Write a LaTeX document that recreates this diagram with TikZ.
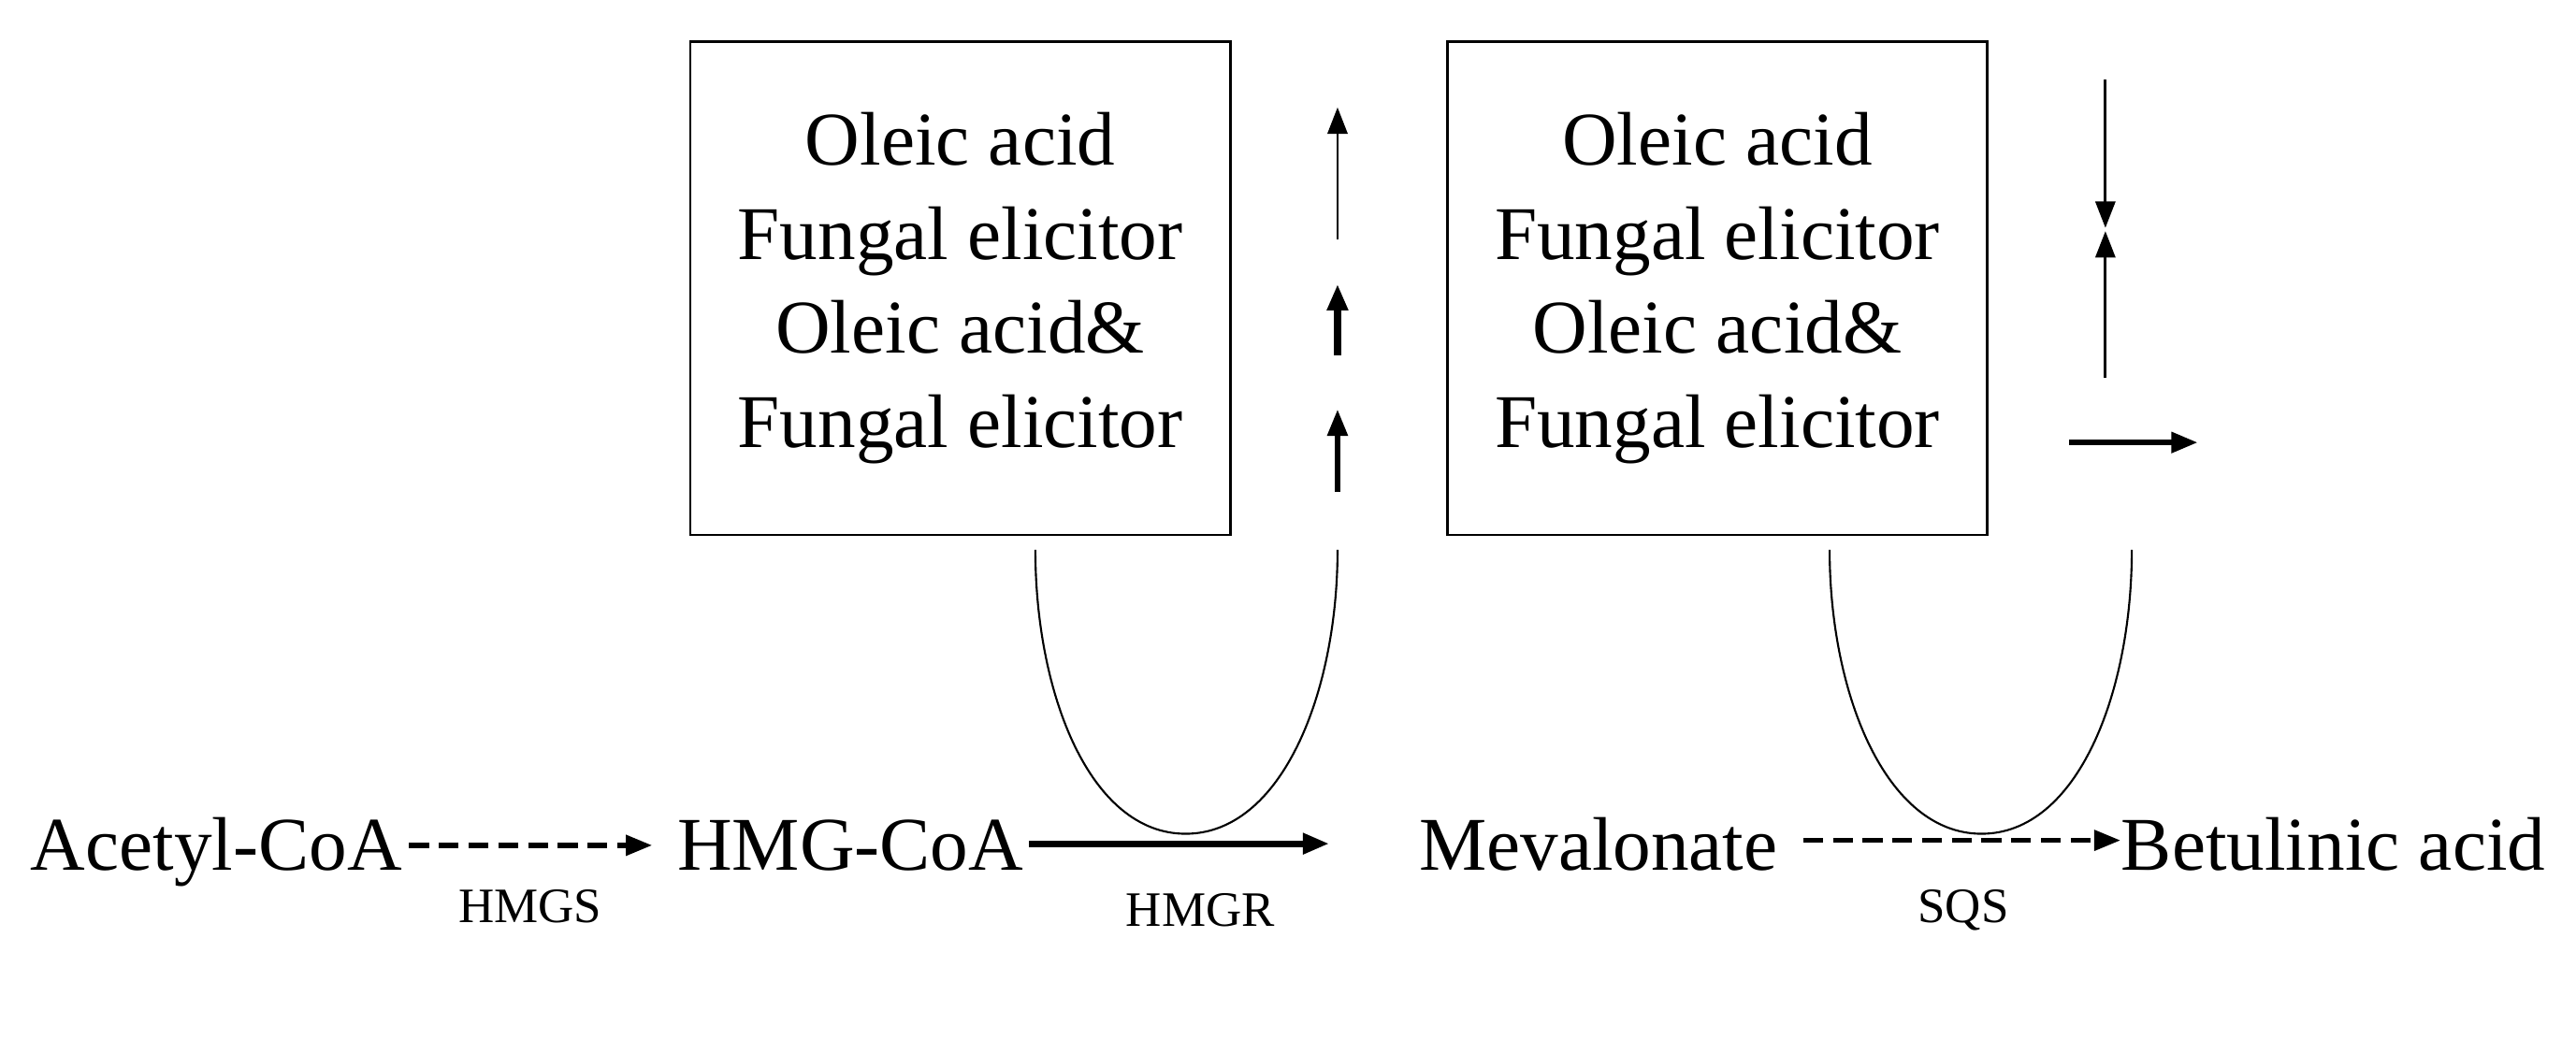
\documentclass[tikz,border=0pt]{standalone}
\usepackage{fontspec}
\setmainfont{Liberation Serif}
\usetikzlibrary{arrows.meta}
\begin{document}
\begin{tikzpicture}[x=0.5pt,y=-0.5pt,
  cbox/.style={draw,line width=0.8pt,minimum width=163.5pt,minimum height=149.5pt,align=center,font=\fontsize{23}{28.5}\selectfont,inner sep=0pt},
  mol/.style={font=\fontsize{23}{27}\selectfont,inner sep=0pt,anchor=base},
  enz/.style={font=\fontsize{15}{18}\selectfont,inner sep=0pt,anchor=base},
  tip/.style={-{Triangle[length=8pt,width=6pt]}},
  thin/.style={line width=0.8pt},
  curve/.style={line width=0.6pt}]
\useasboundingbox (0,0) rectangle (1560,629);
\node[cbox] (b1) at (581.5,174.5) {Oleic acid\\Fungal elicitor\\Oleic acid\&\\Fungal elicitor};
\node[cbox] (b2) at (1040,174.5) {Oleic acid\\Fungal elicitor\\Oleic acid\&\\Fungal elicitor};
% indicator arrows box 1
\coordinate (a1s) at (810,145); \coordinate (a1e) at (810,65);
\coordinate (a2s) at (810,215); \coordinate (a2e) at (810,172);
\coordinate (a3s) at (810,298); \coordinate (a3e) at (810,248);
\draw[tip,thin] (a1s) -- (a1e);
\draw[tip,line width=2.2pt] (a2s) -- (a2e);
\draw[tip,line width=1.5pt] (a3s) -- (a3e);
% indicator arrows box 2
\coordinate (d1s) at (1275,48); \coordinate (d1e) at (1275,138);
\coordinate (d2s) at (1275,229); \coordinate (d2e) at (1275,140);
\coordinate (hs) at (1253,268); \coordinate (he) at (1331,268);
\draw[tip,thin] (d1s) -- (d1e);
\draw[tip,thin] (d2s) -- (d2e);
\draw[tip,line width=1.8pt] (hs) -- (he);
% pathway
\node[mol] (acc) at (131,527) {Acetyl-CoA};
\node[mol] (hmg) at (515,527) {HMG-CoA};
\node[mol] (mev) at (968,527) {Mevalonate};
\node[mol] (bet) at (1413,527) {Betulinic acid};
\coordinate (m1) at (805,511);
\draw[tip,line width=1.6pt,dash pattern=on 6pt off 3pt] (acc.east |- 0,512) ++(4,0) -- (395,512);
\draw[tip,line width=2pt] (hmg.east |- 0,511) ++(3,0) -- (m1);
\draw[tip,line width=1.6pt,dash pattern=on 6pt off 3pt] (1092,509) -- (bet.west |- 0,509);
\node[enz] (e1) at (321,559) {HMGS};
\node[enz] (e2) at (727,561) {HMGR};
\node[enz] (e3) at (1189,559) {SQS};
% U curves
\coordinate (u1a) at (627,333); \coordinate (u1b) at (718,505); \coordinate (u1c) at (810,333);
\coordinate (u2a) at (1108,333); \coordinate (u2b) at (1200,505); \coordinate (u2c) at (1291,333);
\draw[curve] (u1a) .. controls (627,420) and (660,505) .. (u1b) .. controls (776,505) and (810,420) .. (u1c);
\draw[curve] (u2a) .. controls (1108,420) and (1142,505) .. (u2b) .. controls (1258,505) and (1291,420) .. (u2c);
\end{tikzpicture}
\end{document}
